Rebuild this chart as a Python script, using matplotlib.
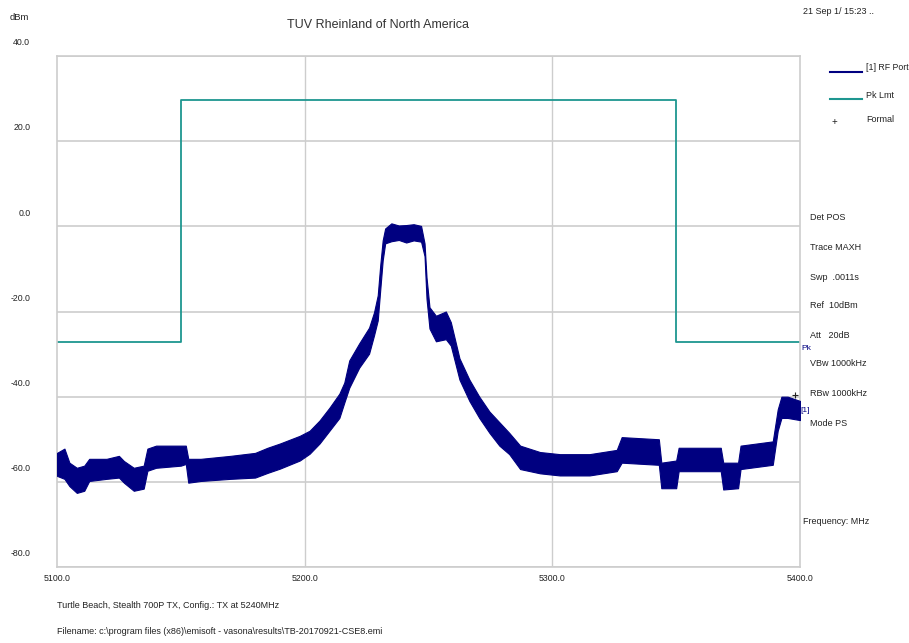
"""
Spectrum plot - RF port max hold trace with peak limit line
"""

import matplotlib
matplotlib.use('Agg')
import matplotlib.pyplot as plt
import matplotlib.transforms as mtransforms

plt.rcParams['font.family'] = ['Liberation Sans Narrow', 'Liberation Sans', 'DejaVu Sans']

# RF Port trace (max hold): frequency [MHz], lower and upper edge of the noise band [dBm]
trace_freq = [5100, 5103, 5105, 5108, 5111, 5113, 5120, 5125, 5127, 5131, 5135,
              5136.5, 5140, 5150, 5152, 5153, 5158, 5170, 5180, 5185, 5190, 5198,
              5202, 5206, 5210, 5214, 5216, 5218, 5222, 5226, 5228, 5229.5, 5230.5,
              5231.5, 5232.5, 5235, 5238, 5241, 5244, 5247, 5248.4, 5249.2, 5250.4,
              5253, 5257, 5259, 5262.5, 5266.5, 5270.5, 5274.6, 5278.6, 5282.6, 5287,
              5295, 5303, 5315, 5326, 5328, 5343, 5344, 5350, 5351, 5368, 5369, 5375,
              5376, 5389, 5391, 5392.5, 5395, 5400]
trace_lo = [-58.6, -59.3, -61.0, -62.6, -62.1, -59.8, -59.3, -59.0, -60.2, -62.1, -61.6,
            -57.4, -56.7, -56.2, -55.8, -60.2, -59.8, -59.3, -59.0, -57.9, -56.9, -55.0,
            -53.4, -51.0, -48.0, -45.0, -41.4, -37.9, -33.2, -29.9, -25.6, -22.1, -15.0,
            -8.0, -4.0, -3.5, -3.2, -3.8, -3.3, -3.6, -7.0, -17.0, -24.0,
            -27.0, -26.5, -28.0, -36.0, -41.0, -45.0, -48.5, -51.5, -53.5, -57.0,
            -58.0, -58.5, -58.5, -57.5, -55.5, -56.0, -61.5, -61.5, -57.5, -57.5, -61.8, -61.5,
            -57.0, -56.0, -48.0, -45.0, -45.0, -45.5]
trace_hi = [-53.2, -52.2, -55.5, -56.7, -56.2, -54.6, -54.6, -53.9, -55.1, -56.7, -56.2,
            -52.2, -51.5, -51.5, -51.5, -54.6, -54.6, -53.9, -53.2, -52.0, -51.0, -49.2,
            -48.0, -45.6, -42.6, -39.3, -36.7, -31.5, -27.5, -23.8, -20.2, -16.2, -9.2,
            -3.3, -0.5, 0.7, 0.2, 0.3, 0.5, 0.1, -4.0, -12.0, -19.0,
            -21.0, -20.0, -22.5, -31.0, -36.0, -40.0, -43.5, -46.0, -48.5, -51.5,
            -53.0, -53.5, -53.5, -52.5, -49.5, -50.0, -55.5, -55.0, -52.0, -52.0, -55.5, -55.5,
            -51.5, -50.5, -43.0, -40.0, -40.0, -41.0]

# Peak limit line
limit_freq = [5100, 5150, 5150, 5350, 5350, 5400]
limit_db = [-27.2, -27.2, 29.6, 29.6, -27.2, -27.2]

# Formal marker
formal_freq = [5398]
formal_db = [-39.6]

x_ticks = [5100, 5200, 5300, 5400]
x_tick_labels = ['5100.0', '5200.0', '5300.0', '5400.0']
y_ticks = [40, 20, 0, -20, -40, -60, -80]
y_tick_labels = ['40.0', '20.0', '0.0', '-20.0', '-40.0', '-60.0', '-80.0']

settings_text = ['Det POS', 'Trace MAXH', 'Swp  .0011s', 'Ref  10dBm', 'Att   20dB',
                 'VBw 1000kHz', 'RBw 1000kHz', 'Mode PS']
settings_y = [218, 248, 278, 306, 336, 364, 394, 423]

W, H = 909, 643
navy = '#000080'
teal = '#1e9690'
grid_c = '#cdcdcd'
txt_c = '#222222'


def fx(px):
    return px / W


def fy(py):
    return 1 - py / H


fig = plt.figure(figsize=(W / 100, H / 100), dpi=100)
ax = fig.add_axes([fx(57), fy(567), fx(800) - fx(57), fy(56) - fy(567)])

ax.fill_between(trace_freq, trace_lo, trace_hi, color=navy, lw=0.8, edgecolor=navy, zorder=3)
ax.plot(limit_freq, limit_db, color=teal, lw=1.3, zorder=2)
ax.plot(formal_freq, formal_db, '+', color=txt_c, ms=4, mew=0.8, zorder=4)

ax.set_xlim(5100, 5400)
ax.set_ylim(-80, 40)

for y in y_ticks:
    ax.axhline(y, color=grid_c, lw=1.2, zorder=1)
for x in x_ticks[1:-1]:
    ax.axvline(x, color=grid_c, lw=1.0, zorder=1)
for s in ax.spines.values():
    s.set_color(grid_c)
    s.set_linewidth(1.2)

ax.set_xticks(x_ticks)
ax.set_xticklabels(x_tick_labels, fontsize=6.3, color=txt_c)
ax.set_yticks([])
ax.tick_params(axis='x', length=0, pad=5)

# y labels sit above their grid line, left of the plot
trans = mtransforms.blended_transform_factory(ax.transAxes, ax.transData)
for y, lab in zip(y_ticks, y_tick_labels):
    ax.text(-0.036, y + 3.1, lab, transform=trans, ha='right', va='center',
            fontsize=6.3, color=txt_c)

fig.text(fx(378), fy(25), 'TUV Rheinland of North America', ha='center', va='center',
         fontsize=9, color='#333333')
fig.text(fx(10), fy(18), 'dBm', ha='left', va='center', fontsize=6.8, color=txt_c)
fig.text(fx(803), fy(12), '21 Sep 1/ 15:23 ..', ha='left', va='center', fontsize=6.5, color=txt_c)

# legend
fig.add_artist(plt.Line2D([fx(830), fx(862)], [fy(72), fy(72)], color=navy, lw=1.5))
fig.add_artist(plt.Line2D([fx(830), fx(862)], [fy(99), fy(99)], color=teal, lw=1.5))
fig.text(fx(866), fy(68), '[1] RF Port', ha='left', va='center', fontsize=6.3, color=txt_c)
fig.text(fx(866), fy(95), 'Pk Lmt', ha='left', va='center', fontsize=6.5, color=txt_c)
fig.text(fx(834), fy(122), '+', ha='center', va='center', fontsize=7, color=txt_c)
fig.text(fx(866), fy(120), 'Formal', ha='left', va='center', fontsize=6.5, color=txt_c)

for lab, y in zip(settings_text, settings_y):
    fig.text(fx(810), fy(y), lab, ha='left', va='center', fontsize=6.5, color=txt_c)

fig.text(fx(801), fy(349), 'Pk', ha='left', va='center', fontsize=6, color=navy)
fig.text(fx(800), fy(410), '[1]', ha='left', va='center', fontsize=6, color=navy)
fig.text(fx(803), fy(522), 'Frequency: MHz', ha='left', va='center', fontsize=6.5, color=txt_c)

fig.text(fx(57), fy(605), 'Turtle Beach, Stealth 700P TX, Config.: TX at 5240MHz',
         ha='left', va='center', fontsize=6.5, color=txt_c)
fig.text(fx(57), fy(631),
         'Filename: c:\\program files (x86)\\emisoft - vasona\\results\\TB-20170921-CSE8.emi',
         ha='left', va='center', fontsize=6.5, color=txt_c)

plt.savefig('out.png', dpi=100)
plt.close()
